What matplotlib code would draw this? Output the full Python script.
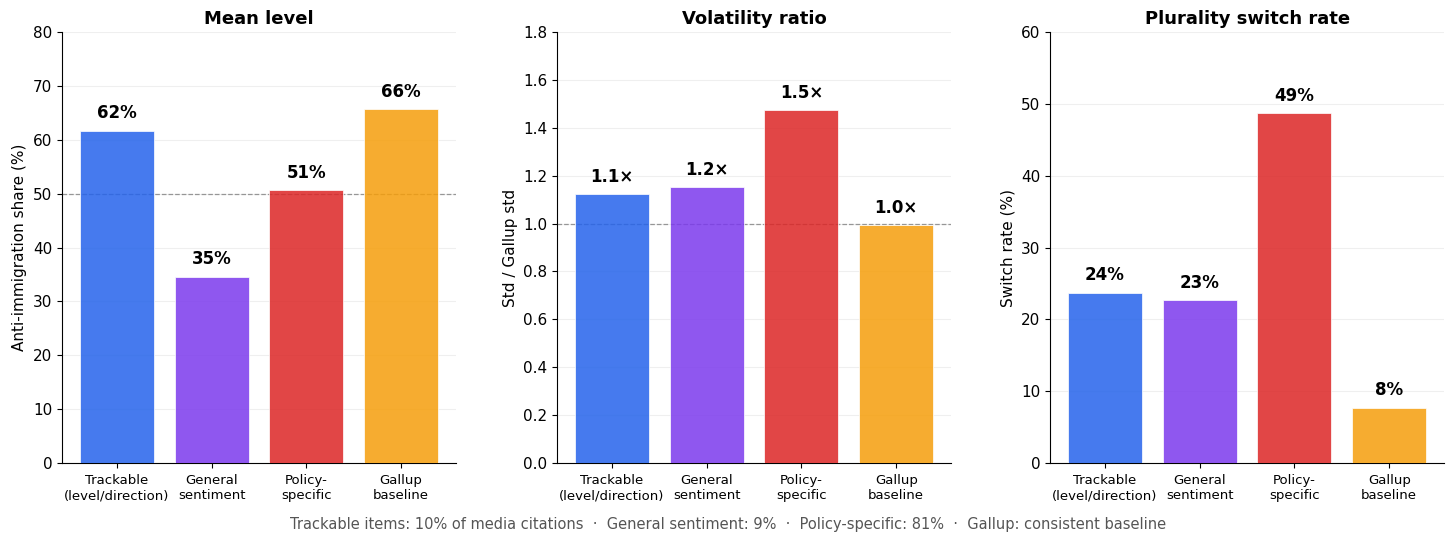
import numpy as np
import matplotlib
matplotlib.use("Agg")
from matplotlib import pyplot as plt

# categories and colours
categories = ["Trackable\n(level/direction)", "General\nsentiment", "Policy-\nspecific", "Gallup\nbaseline"]
bar_colors = ["#2563eb", "#7c3aed", "#dc2626", "#f59e0b"]

# values
mean_level = [61.7, 34.6, 50.7, 65.7]
volatility_ratio = [1.124, 1.153, 1.474, 0.993]
switch_rate = [23.7, 22.7, 48.7, 7.7]

titles = ["Mean level", "Volatility ratio", "Plurality switch rate"]
ylabels = ["Anti-immigration share (%)", "Std / Gallup std", "Switch rate (%)"]
ylims = [80, 1.8, 60]
reflines = [50, 1.0, None]
footnote = ("Trackable items: 10% of media citations  \u00b7  General sentiment: 9%  \u00b7  "
            "Policy-specific: 81%  \u00b7  Gallup: consistent baseline")

fig = plt.figure(figsize=(14.56, 5.42), dpi=100)
lefts = [0.0426, 0.3826, 0.7212]
axes = [fig.add_axes([l, 0.1458, 0.2706, 0.795]) for l in lefts]

series = [mean_level, volatility_ratio, switch_rate]
fmts = [lambda v: f"{v:.0f}%", lambda v: f"{v:.1f}\u00d7", lambda v: f"{v:.0f}%"]

for ax, vals, title, ylab, ymax, ref, fmt in zip(axes, series, titles, ylabels, ylims, reflines, fmts):
    x = np.arange(len(categories))
    ax.bar(x, vals, width=0.78, color=bar_colors, alpha=0.85, edgecolor="white", linewidth=0.6, zorder=3)
    for xi, v in zip(x, vals):
        ax.annotate(fmt(v), (xi, v), xytext=(0, 6), textcoords="offset points",
                    ha="center", va="bottom", fontsize=12, fontweight="bold")
    if ref is not None:
        ax.axhline(ref, color="gray", linestyle="--", linewidth=0.9, alpha=0.8, zorder=2)
    ax.set_ylim(0, ymax)
    ax.set_xticks(x)
    ax.set_xticklabels(categories, fontsize=9.5)
    ax.tick_params(axis="y", labelsize=11)
    ax.tick_params(axis="x", pad=4.5)
    ax.set_ylabel(ylab, fontsize=11)
    ax.set_title(title, fontsize=13, fontweight="bold", pad=6)
    ax.grid(axis="y", color="#e5e5e5", alpha=0.6, linewidth=0.8, zorder=0)
    ax.spines["top"].set_visible(False)
    ax.spines["right"].set_visible(False)

fig.text(0.5, 0.033, footnote, ha="center", va="center", fontsize=10.5, color="#555555")

fig.savefig("out.png", dpi=100)
